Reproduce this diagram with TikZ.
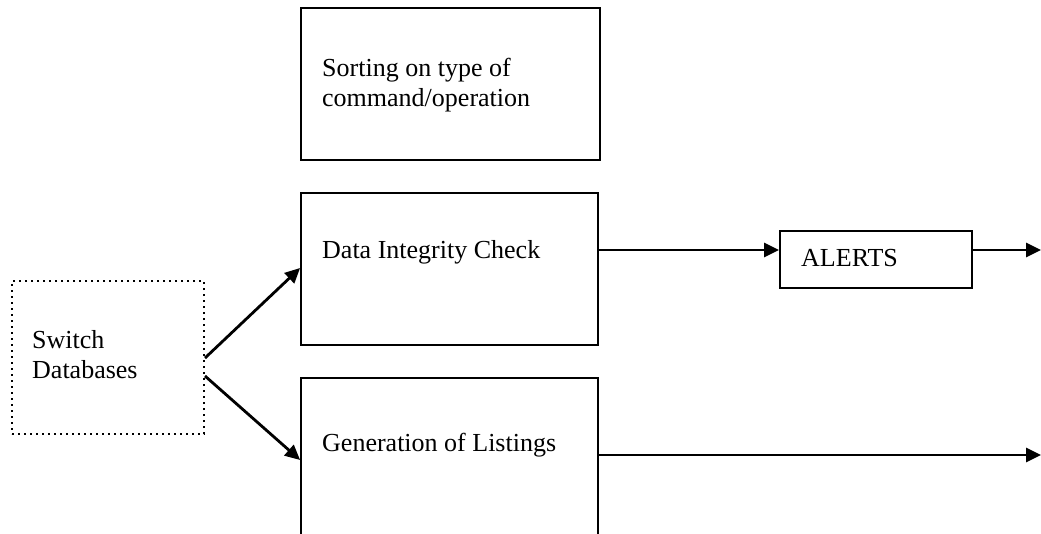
\documentclass[tikz,border=0pt]{standalone}
\usepackage{fontspec}
\setmainfont{Liberation Serif}
\usetikzlibrary{arrows.meta,calc}
\begin{document}
\begin{tikzpicture}[x=1pt,y=-1pt,
  box/.style={draw,line width=1.8pt,inner sep=0pt},
  dotbox/.style={draw,line width=2pt,dash pattern=on 2pt off 4pt,inner sep=0pt},
  lbl/.style={anchor=base west,inner sep=0pt,font=\fontsize{26}{29.5}\selectfont,align=left},
  conn/.style={line width=2.8pt,-{Triangle[length=15pt,width=14pt]}}]
\useasboundingbox (0,0) rectangle (1041,533);
% boxes
\node[box,minimum width=299pt,minimum height=152pt] (sort) at (450.5,84) {};
\node[box,minimum width=297pt,minimum height=152pt] (dic) at (449.5,269) {};
\node[box,minimum width=297pt,minimum height=162pt] (gen) at (449.5,459) {};
\node[dotbox,minimum width=192pt,minimum height=153pt] (sw) at (108,357.5) {};
\node[box,minimum width=192pt,minimum height=57pt] (al) at (876,259.5) {};
% labels (anchor = baseline of last line)
\node[lbl] (tsort) at (322,106) {Sorting on type of\\command/operation};
\node[lbl] (tdic) at (322,258) {Data Integrity Check};
\node[lbl] (tgen) at (322,451) {Generation of Listings};
\node[lbl] (tal) at (801,266) {ALERTS};
\node[lbl] (tsw) at (32,378) {Switch\\Databases};
% connector end points
\coordinate (s1) at ($(sw.east)+(0,0.5)$);
\coordinate (s2) at ($(sw.east)+(0,18.5)$);
\coordinate (d1) at (dic.west |- 0,268);
\coordinate (g1) at (gen.west |- 0,460);
\coordinate (dout) at (dic.east |- 0,250);
\coordinate (gout) at (gen.east |- 0,455);
\coordinate (e1) at (1041,250);
\coordinate (e2) at (1041,455);
% connectors
\draw[conn] (s1) -- (d1);
\draw[conn] (s2) -- (g1);
\draw[conn] (dout) -- (al.west |- dout);
\draw[conn] (al.east |- dout) -- (e1);
\draw[conn] (gout) -- (e2);
\end{tikzpicture}
\end{document}
